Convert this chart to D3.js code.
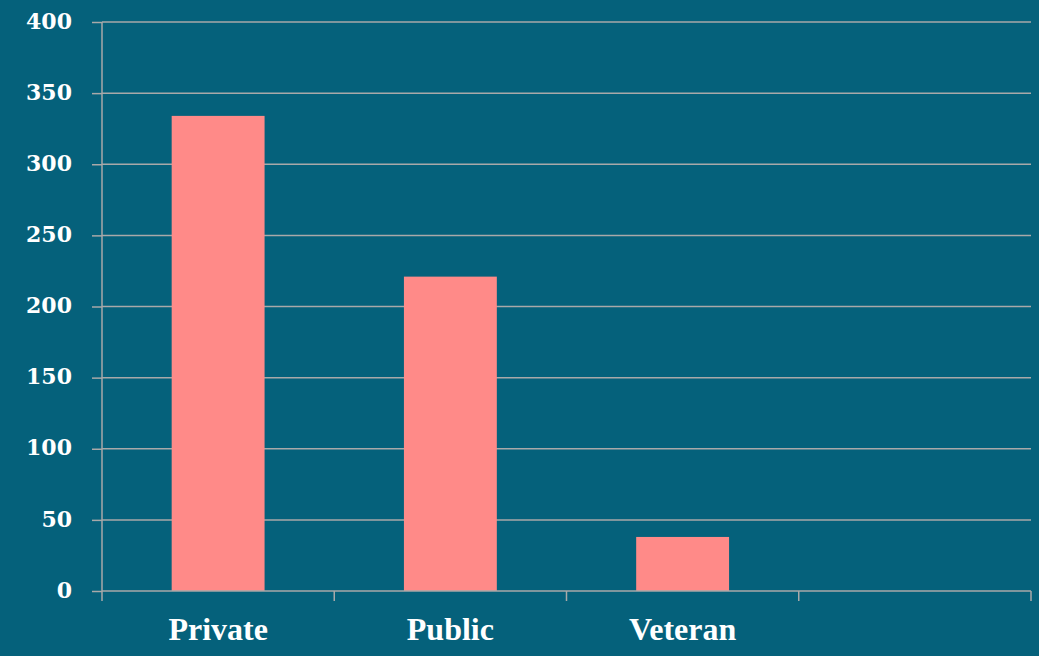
<!DOCTYPE html>
<html>
<head>
<meta charset="utf-8">
<script src="https://cdn.jsdelivr.net/npm/d3@7"></script>
<style>
  html, body { margin: 0; padding: 0; background: #05617b; }
  svg { display: block; }
  text { font-family: "Liberation Serif", "DejaVu Serif", serif; font-weight: bold; fill: #ffffff; }
</style>
</head>
<body>
<svg id="chart" width="1039" height="656"></svg>
<script>
// Bar chart data
const categories = ["Private", "Public", "Veteran", ""];
const values = [334, 221, 38, null];
const yTicks = [0, 50, 100, 150, 200, 250, 300, 350, 400];

const width = 1039, height = 656;
const margin = { left: 102, right: 8, top: 22, bottom: 65 };

const svg = d3.select("#chart");
svg.append("rect").attr("width", width).attr("height", height).attr("fill", "#05617b");

const x = d3.scaleBand()
  .domain(categories.map((c, i) => i))
  .range([margin.left, width - margin.right])
  .padding(0);

const y = d3.scaleLinear()
  .domain([0, 400])
  .range([height - margin.bottom, margin.top]);

const gridColor = "#a9a9a9";

// Value axis labels and left tick marks
const yAxis = svg.append("g")
  .attr("transform", `translate(${margin.left},0)`)
  .call(d3.axisLeft(y).tickValues(yTicks).tickSize(10).tickPadding(20).tickFormat(d3.format("d")));
yAxis.select(".domain").remove();
yAxis.selectAll(".tick line").attr("stroke", gridColor).attr("stroke-width", 1.5);
yAxis.selectAll(".tick text")
  .attr("font-size", 22)
  .attr("dy", "0.28em")
  .style("fill", "#ffffff")
  .style("font-family", "'DejaVu Serif', 'Liberation Serif', serif")
  .style("font-weight", "bold");

// Horizontal gridlines
svg.append("g")
  .selectAll("line")
  .data(yTicks.filter(t => t > 0))
  .join("line")
  .attr("x1", margin.left)
  .attr("x2", width - margin.right)
  .attr("y1", d => y(d))
  .attr("y2", d => y(d))
  .attr("stroke", gridColor)
  .attr("stroke-width", 1.5);

// Bars
const barFrac = 0.4;
svg.append("g")
  .selectAll("rect")
  .data(values.map((v, i) => ({ i, v })).filter(d => d.v != null))
  .join("rect")
  .attr("x", d => x(d.i) + x.bandwidth() * (1 - barFrac) / 2)
  .attr("width", x.bandwidth() * barFrac)
  .attr("y", d => y(d.v))
  .attr("height", d => y(0) - y(d.v))
  .attr("fill", "#ff8a88");

// Vertical axis line
svg.append("line")
  .attr("x1", margin.left).attr("x2", margin.left)
  .attr("y1", y(400)).attr("y2", y(0) + 10)
  .attr("stroke", gridColor).attr("stroke-width", 1.5);

// Category axis line and boundary ticks
const baseY = y(0);
svg.append("line")
  .attr("x1", margin.left).attr("x2", width - margin.right)
  .attr("y1", baseY).attr("y2", baseY)
  .attr("stroke", gridColor).attr("stroke-width", 1.5);

const bounds = categories.map((c, i) => x(i)).concat([x(categories.length - 1) + x.bandwidth()]);
svg.append("g")
  .selectAll("line")
  .data(bounds.slice(1))
  .join("line")
  .attr("x1", d => d).attr("x2", d => d)
  .attr("y1", baseY).attr("y2", baseY + 10)
  .attr("stroke", gridColor).attr("stroke-width", 1.5);

// Category labels
svg.append("g")
  .selectAll("text")
  .data(categories.map((c, i) => ({ c, i })).filter(d => d.c))
  .join("text")
  .attr("x", d => x(d.i) + x.bandwidth() / 2)
  .attr("y", baseY + 49)
  .attr("text-anchor", "middle")
  .attr("font-size", 32)
  .text(d => d.c);
</script>
</body>
</html>
